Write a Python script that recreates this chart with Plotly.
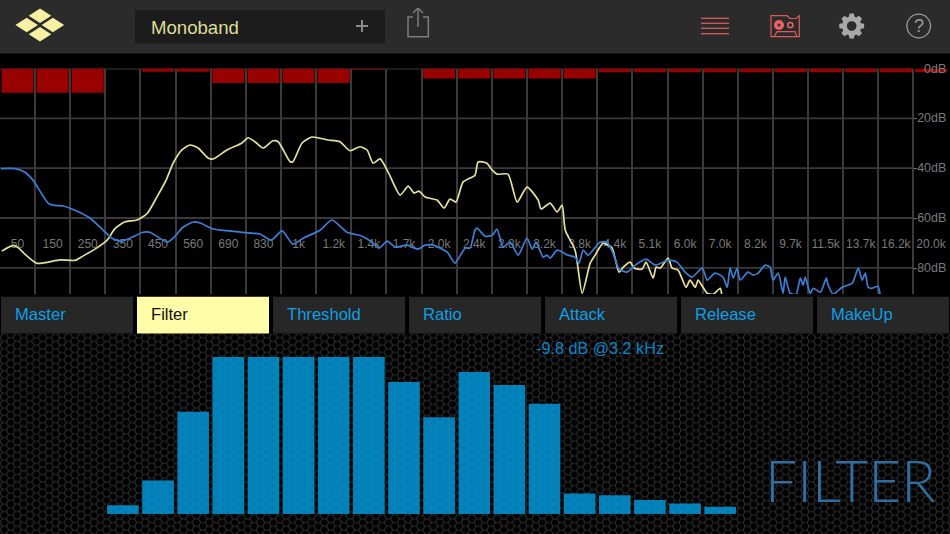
import base64
import math
import plotly.graph_objects as go

W, H = 950, 534

band_labels = ["50", "150", "250", "350", "450", "560", "690", "830", "1k", "1.2k", "1.4k", "1.7k", "2.0k", "2.4k",
               "2.8k", "3.2k", "3.8k", "4.4k", "5.1k", "6.0k", "7.0k", "8.2k", "9.7k", "11.5k", "13.7k", "16.2k", "20.0k"]
db_ticks = [0, -20, -40, -60, -80]
db_labels = ["0dB", "-20dB", "-40dB", "-60dB", "-80dB"]

# gain reduction per band (dB)
reduction = [-9.7, -9.7, -9.7, 0, -1.3, -1.3, -5.8, -5.8, -5.8, -5.8, -0.2, 0, -4, -4, -4, -4, -4,
             -1.5, -1.5, -1.5, -1.5, -1.5, -1.5, -1.5, -1.5, -1.5, -1.5]

# input spectrum
yellow_band = [-0.45, -0.13, 0.01, 0.21, 0.56, 1.21, 1.64, 1.86, 2.26, 2.55, 2.78, 3.06, 3.40, 3.69, 3.97, 4.23, 4.43,
               4.68, 4.91, 5.14, 5.42, 5.57, 5.96, 6.39, 6.56, 6.76, 6.99, 7.27, 7.42, 7.76, 7.84, 8.10, 8.38, 8.84,
               9.18, 9.46, 9.75, 9.95, 10.12, 10.32, 10.55, 10.89, 11.12, 11.29, 11.43, 11.60, 11.94, 12.14, 12.31,
               12.48, 12.68, 13.02, 13.11, 13.36, 13.51, 13.65, 13.96, 14.22, 14.50, 14.82, 14.90, 15.16, 15.36, 15.50,
               15.59, 15.87, 16.07, 16.30, 16.44, 16.67, 16.92, 17.12, 17.24, 17.44, 17.55, 17.78, 17.89, 18.09, 18.18,
               18.29, 18.52, 18.63, 18.80, 19.03, 19.14, 19.29, 19.37, 19.51, 19.63, 19.80, 20.0, 20.04]
yellow_db = [-73.3, -71.0, -71.8, -74.5, -78.2, -76.8, -77.0, -75.3, -72.0, -68.9, -64.2, -61.5, -60.8, -58.2, -51.5,
             -44.8, -38.0, -32.7, -30.7, -31.9, -35.9, -36.3, -32.7, -29.9, -27.8, -29.4, -31.9, -29.0, -29.4, -37.4,
             -37.4, -29.9, -27.5, -28.7, -29.4, -33.0, -31.4, -32.7, -38.0, -36.3, -41.6, -50.8, -47.2, -50.0, -49.2,
             -51.6, -52.8, -56.0, -52.4, -53.6, -45.6, -42.8, -37.5, -38.0, -40.8, -42.4, -42.4, -53.6, -47.6, -52.8,
             -56.4, -54.0, -57.6, -54.8, -64.9, -72.9, -90.2, -78.1, -74.9, -70.1, -72.1, -81.7, -79.7, -77.7, -80.1,
             -80.5, -77.7, -84.1, -79.7, -80.1, -76.1, -80.1, -80.9, -87.8, -84.9, -87.8, -84.9, -87.8, -90.2, -90.6,
             -88.2, -90.6]

# output spectrum
blue_band = [-0.47, -0.07, 0.21, 0.44, 0.87, 1.01, 1.30, 1.55, 2.06, 2.35, 2.69, 2.97, 3.20, 3.57, 3.77, 4.26, 4.43,
             4.71, 5.00, 5.20, 5.57, 6.05, 6.53, 6.90, 7.22, 7.53, 7.84, 8.13, 8.61, 8.95, 9.38, 9.81, 10.09, 10.29,
             10.52, 10.75, 11.09, 11.40, 11.60, 11.83, 12.23, 12.45, 12.74, 12.88, 13.02, 13.08, 13.31, 13.51, 13.65,
             13.82, 14.02, 14.25, 14.50, 14.65, 14.76, 14.96, 15.07, 15.16, 15.36, 15.67, 15.87, 15.98, 16.10, 16.24,
             16.58, 16.78, 16.95, 17.12, 17.35, 17.58, 17.89, 18.15, 18.52, 18.77, 19.0, 19.2, 19.49, 19.63, 19.85,
             20.08, 20.2, 20.28, 20.37, 20.48, 20.57, 20.79, 20.94, 21.08, 21.28, 21.42, 21.5, 21.65, 21.79, 21.85,
             21.99, 22.16, 22.28, 22.36, 22.42, 22.56, 22.65, 22.85, 23.02, 23.07, 23.22, 23.47, 23.76, 23.93, 24.04,
             24.13, 24.21, 24.32, 24.49, 24.55]
blue_db = [-40.2, -40.2, -41.6, -44.8, -54.0, -54.8, -55.2, -56.4, -60.0, -63.7, -68.1, -69.3, -68.1, -65.7, -65.7,
           -69.7, -68.1, -63.7, -61.6, -62.0, -64.4, -65.2, -66.0, -66.4, -68.9, -65.2, -70.5, -68.1, -64.9, -60.8,
           -65.7, -67.3, -69.7, -72.1, -69.3, -71.7, -70.9, -72.5, -70.9, -70.9, -73.7, -78.1, -72.1, -72.1, -64.9,
           -64.1, -67.3, -66.9, -64.5, -71.7, -69.7, -74.9, -68.1, -72.5, -69.7, -75.7, -74.9, -76.1, -72.9, -74.9,
           -75.7, -78.1, -72.9, -74.9, -69.7, -69.7, -74.1, -80.5, -81.7, -78.9, -76.5, -78.9, -76.9, -77.7, -81.7,
           -83.7, -80.1, -84.9, -82.1, -83.7, -87.8, -80.1, -84.1, -80.1, -84.9, -81.7, -82.9, -82.1, -78.9, -79.7,
           -84.9, -82.1, -90.2, -83.7, -90.2, -90.6, -84.1, -86.9, -83.7, -90.2, -88.2, -89.8, -84.1, -86.9, -90.6,
           -87.8, -86.1, -80.1, -84.9, -82.1, -87.8, -88.2, -87.4, -90.6]

# filter bars, bands 3 to 20 (350 to 7.0k)
filter_band = list(range(3, 21))
filter_db = [-31.0, -25.8, -11.5, 0, 0, 0, 0, 0, -5.3, -12.6, -3.2, -5.9, -9.8, -28.5, -28.9, -29.9, -30.6, -31.3]
filter_floor = -32.8

tabs = ["Master", "Filter", "Threshold", "Ratio", "Attack", "Release", "MakeUp"]

FONT = "Liberation Sans"
GRID = "#3a3a3a"
LABEL = "#7a7a7a"
TAB_BLUE = "#0f9fe6"
RED_ICON = "#d95c5c"
GRAY_ICON = "#a8a8a8"


def px(x):
    return x / W


def py(y):
    return 1 - y / H


def rect(x0, y0, x1, y1, fill):
    return dict(type="rect", xref="paper", yref="paper", x0=px(x0), x1=px(x1), y0=py(y0), y1=py(y1),
                fillcolor=fill, line_width=0, layer="below")


def seg(x0, y0, x1, y1, color, width=1.5):
    return dict(type="line", xref="paper", yref="paper", x0=px(x0), x1=px(x1), y0=py(y0), y1=py(y1),
                line=dict(color=color, width=width))


def circle(cx, cy, r, fill=None, color=None, width=1.5):
    return dict(type="circle", xref="paper", yref="paper", x0=px(cx - r), x1=px(cx + r), y0=py(cy + r), y1=py(cy - r),
                fillcolor=fill or "rgba(0,0,0,0)", line=dict(color=color or "rgba(0,0,0,0)", width=width))


def poly(points, fill=None, color=None, width=1.5, close=True):
    path = "M" + " L".join(f"{px(x):.5f},{py(y):.5f}" for x, y in points) + (" Z" if close else "")
    return dict(type="path", xref="paper", yref="paper", path=path, fillcolor=fill or "rgba(0,0,0,0)",
                line=dict(color=color or "rgba(0,0,0,0)", width=width))


def note(x, y, text, size, color, anchor="left", family=FONT, weight=None):
    font = dict(family=family, size=size, color=color)
    if weight:
        font["weight"] = weight
    return dict(xref="paper", yref="paper", x=px(x), y=py(y), text=text, showarrow=False, xanchor=anchor,
                yanchor="middle", font=font, borderpad=0, borderwidth=0)


def gear(cx, cy):
    pts = []
    for i in range(8):
        a = i * math.pi / 4
        for da, r in [(-0.3, 9.6), (-0.17, 12.6), (0.17, 12.6), (0.3, 9.6)]:
            pts.append((cx + r * math.cos(a + da), cy + r * math.sin(a + da)))
    return pts


def hex_tile(opacity):
    s = 4.27
    h = s * math.sqrt(3)
    d = (f"M0,{h / 2} L{s / 2},0 L{1.5 * s},0 L{2 * s},{h / 2} L{1.5 * s},{h} L{s / 2},{h} Z "
         f"M{2 * s},{h / 2} L{3 * s},{h / 2}")
    svg = (f'<svg xmlns="http://www.w3.org/2000/svg" width="950" height="200"><defs>'
           f'<pattern id="h" width="{3 * s}" height="{h}" patternUnits="userSpaceOnUse">'
           f'<path d="{d}" fill="none" stroke="#ffffff" stroke-opacity="{opacity}" stroke-width="1"/></pattern></defs>'
           f'<rect width="950" height="200" fill="url(#h)"/></svg>')
    return "data:image/svg+xml;base64," + base64.b64encode(svg.encode()).decode()


def hex_image(opacity, layer):
    return dict(source=hex_tile(opacity), xref="paper", yref="paper", x=0, y=py(334), sizex=1, sizey=200 / H,
                xanchor="left", yanchor="top", sizing="stretch", layer=layer)


fig = go.Figure()

# frequency labels sit under the curves
fig.add_trace(go.Scatter(x=list(range(len(band_labels))), y=[-70.7] * len(band_labels), text=band_labels, mode="text",
                         textfont=dict(family=FONT, size=12, color=LABEL), cliponaxis=False))
fig.add_trace(go.Bar(x=list(range(len(reduction))), y=reduction, width=0.91, marker=dict(color="#990000", line_width=0)))
fig.add_trace(go.Scatter(x=yellow_band, y=yellow_db, mode="lines",
                         line=dict(color="#e6e19a", width=1.7, shape="spline", smoothing=0.6)))
fig.add_trace(go.Scatter(x=blue_band, y=blue_db, mode="lines",
                         line=dict(color="#3b7fd6", width=1.7, shape="spline", smoothing=0.6)))
fig.add_trace(go.Bar(x=filter_band, y=[v - filter_floor for v in filter_db], base=filter_floor, width=0.9,
                     marker=dict(color="#0080b8", line_width=0), xaxis="x2", yaxis="y2"))

shapes = [rect(0, 0, W, 53.5, "#2b2b2b"), rect(135, 10, 385, 43.5, "#1c1c1c")]

# horizontal grid stops at the last band line, so it cannot be the axis grid
for tick in db_ticks:
    shapes.append(dict(type="line", xref="x", yref="y", x0=-0.498, x1=25.5, y0=tick, y1=tick,
                       line=dict(color=GRID, width=1.8), layer="below"))

# logo
for cx, cy in [(40, 15.7), (26.7, 25), (52.9, 25), (40, 34.3)]:
    shapes.append(poly([(cx - 11.3, cy), (cx, cy - 7.2), (cx + 11.3, cy), (cx, cy + 7.2)], fill="#f6f0a3"))

# plus
shapes += [seg(356, 26, 368, 26, "#8a8a8a", 2), seg(362, 20, 362, 32, "#8a8a8a", 2)]

# share icon
shapes.append(poly([(413, 17), (408, 17), (408, 36.7), (428.3, 36.7), (428.3, 17), (423, 17)], color="#7c7c7c",
                   close=False))
shapes += [seg(418, 8, 418, 27, "#7c7c7c"), seg(413, 13, 418, 8, "#7c7c7c"), seg(423, 13, 418, 8, "#7c7c7c")]

# menu icon
for y in [18.3, 23.3, 28.3, 33.7]:
    shapes.append(seg(701, y, 729, y, RED_ICON, 1.3))

# tape icon
shapes.append(poly([(771, 15.7), (787, 15.7), (790, 18.5), (796, 18.5), (799.3, 15.7), (799.3, 36.7), (771, 36.7)],
                   color=RED_ICON, width=1.2))
shapes += [circle(779, 25, 5, fill="#e86464"), circle(779, 25, 1.5, fill="#2b2b2b"),
           circle(790.3, 25, 2.6, color="#e86464", width=1.5),
           poly([(774, 36.7), (777, 31.7), (795, 31.7), (797, 36.7)], color=RED_ICON, width=1.2, close=False)]

# gear and help icons
shapes += [poly(gear(851.7, 26), fill=GRAY_ICON), circle(851.7, 26, 4.8, fill="#2b2b2b"),
           circle(918.7, 26, 11.8, color="#9a9a9a", width=1.3)]

# tabs
for i, name in enumerate(tabs):
    x0 = 1 + i * 136
    shapes.append(rect(x0, 296.7, x0 + 132, 333.5, "#fffda8" if name == "Filter" else "#272727"))

notes = [note(151, 27, "Monoband", 18.6, "#dfdc97"),
         note(918.7, 26, "?", 18, "#a0a0a0", anchor="center"),
         note(536, 347.5, "-9.8 dB @3.2 kHz", 16.2, "#0a84c4"),
         note(765, 480, "FILTER", 57, "#2f6c9f", family="Lato", weight=300)]
for i, name in enumerate(tabs):
    color = "#111111" if name == "Filter" else TAB_BLUE
    notes.append(note(1 + i * 136 + 13.5, 314.5, name, 16.6, color))
for tick, label in zip(db_ticks, db_labels):
    notes.append(dict(xref="paper", yref="y", x=px(948), y=tick, text=label, showarrow=False, xanchor="right",
                      yanchor="middle", font=dict(family=FONT, size=12.5, color=LABEL)))

band_range = [-0.498, 26.54]
fig.update_layout(
    width=W, height=H, margin=dict(l=0, r=0, t=0, b=0), paper_bgcolor="#000000", plot_bgcolor="rgba(0,0,0,0)",
    showlegend=False, barmode="overlay", hovermode=False, shapes=shapes, annotations=notes,
    images=[hex_image(0.15, "below"), hex_image(0.05, "above")],
    xaxis=dict(domain=[0, 1], range=band_range, tickmode="array",
               tickvals=[k + 0.5 for k in range(26)], showticklabels=False, ticks="", showgrid=True,
               gridcolor=GRID, gridwidth=1.8, zeroline=False),
    yaxis=dict(domain=[py(294), py(68.5)], range=[-90.5, 0], showgrid=False, showticklabels=False, ticks="",
               zeroline=False),
    xaxis2=dict(domain=[0, 1], range=band_range, anchor="y2", visible=False),
    yaxis2=dict(domain=[py(514), py(356.7)], range=[filter_floor, 0], anchor="x2", visible=False),
)

# the page's default body margin would shift everything by 8px
fig.write_html("out.html", config={"displayModeBar": False},
               post_script="document.body.style.margin='0';document.body.style.background='#000';")
